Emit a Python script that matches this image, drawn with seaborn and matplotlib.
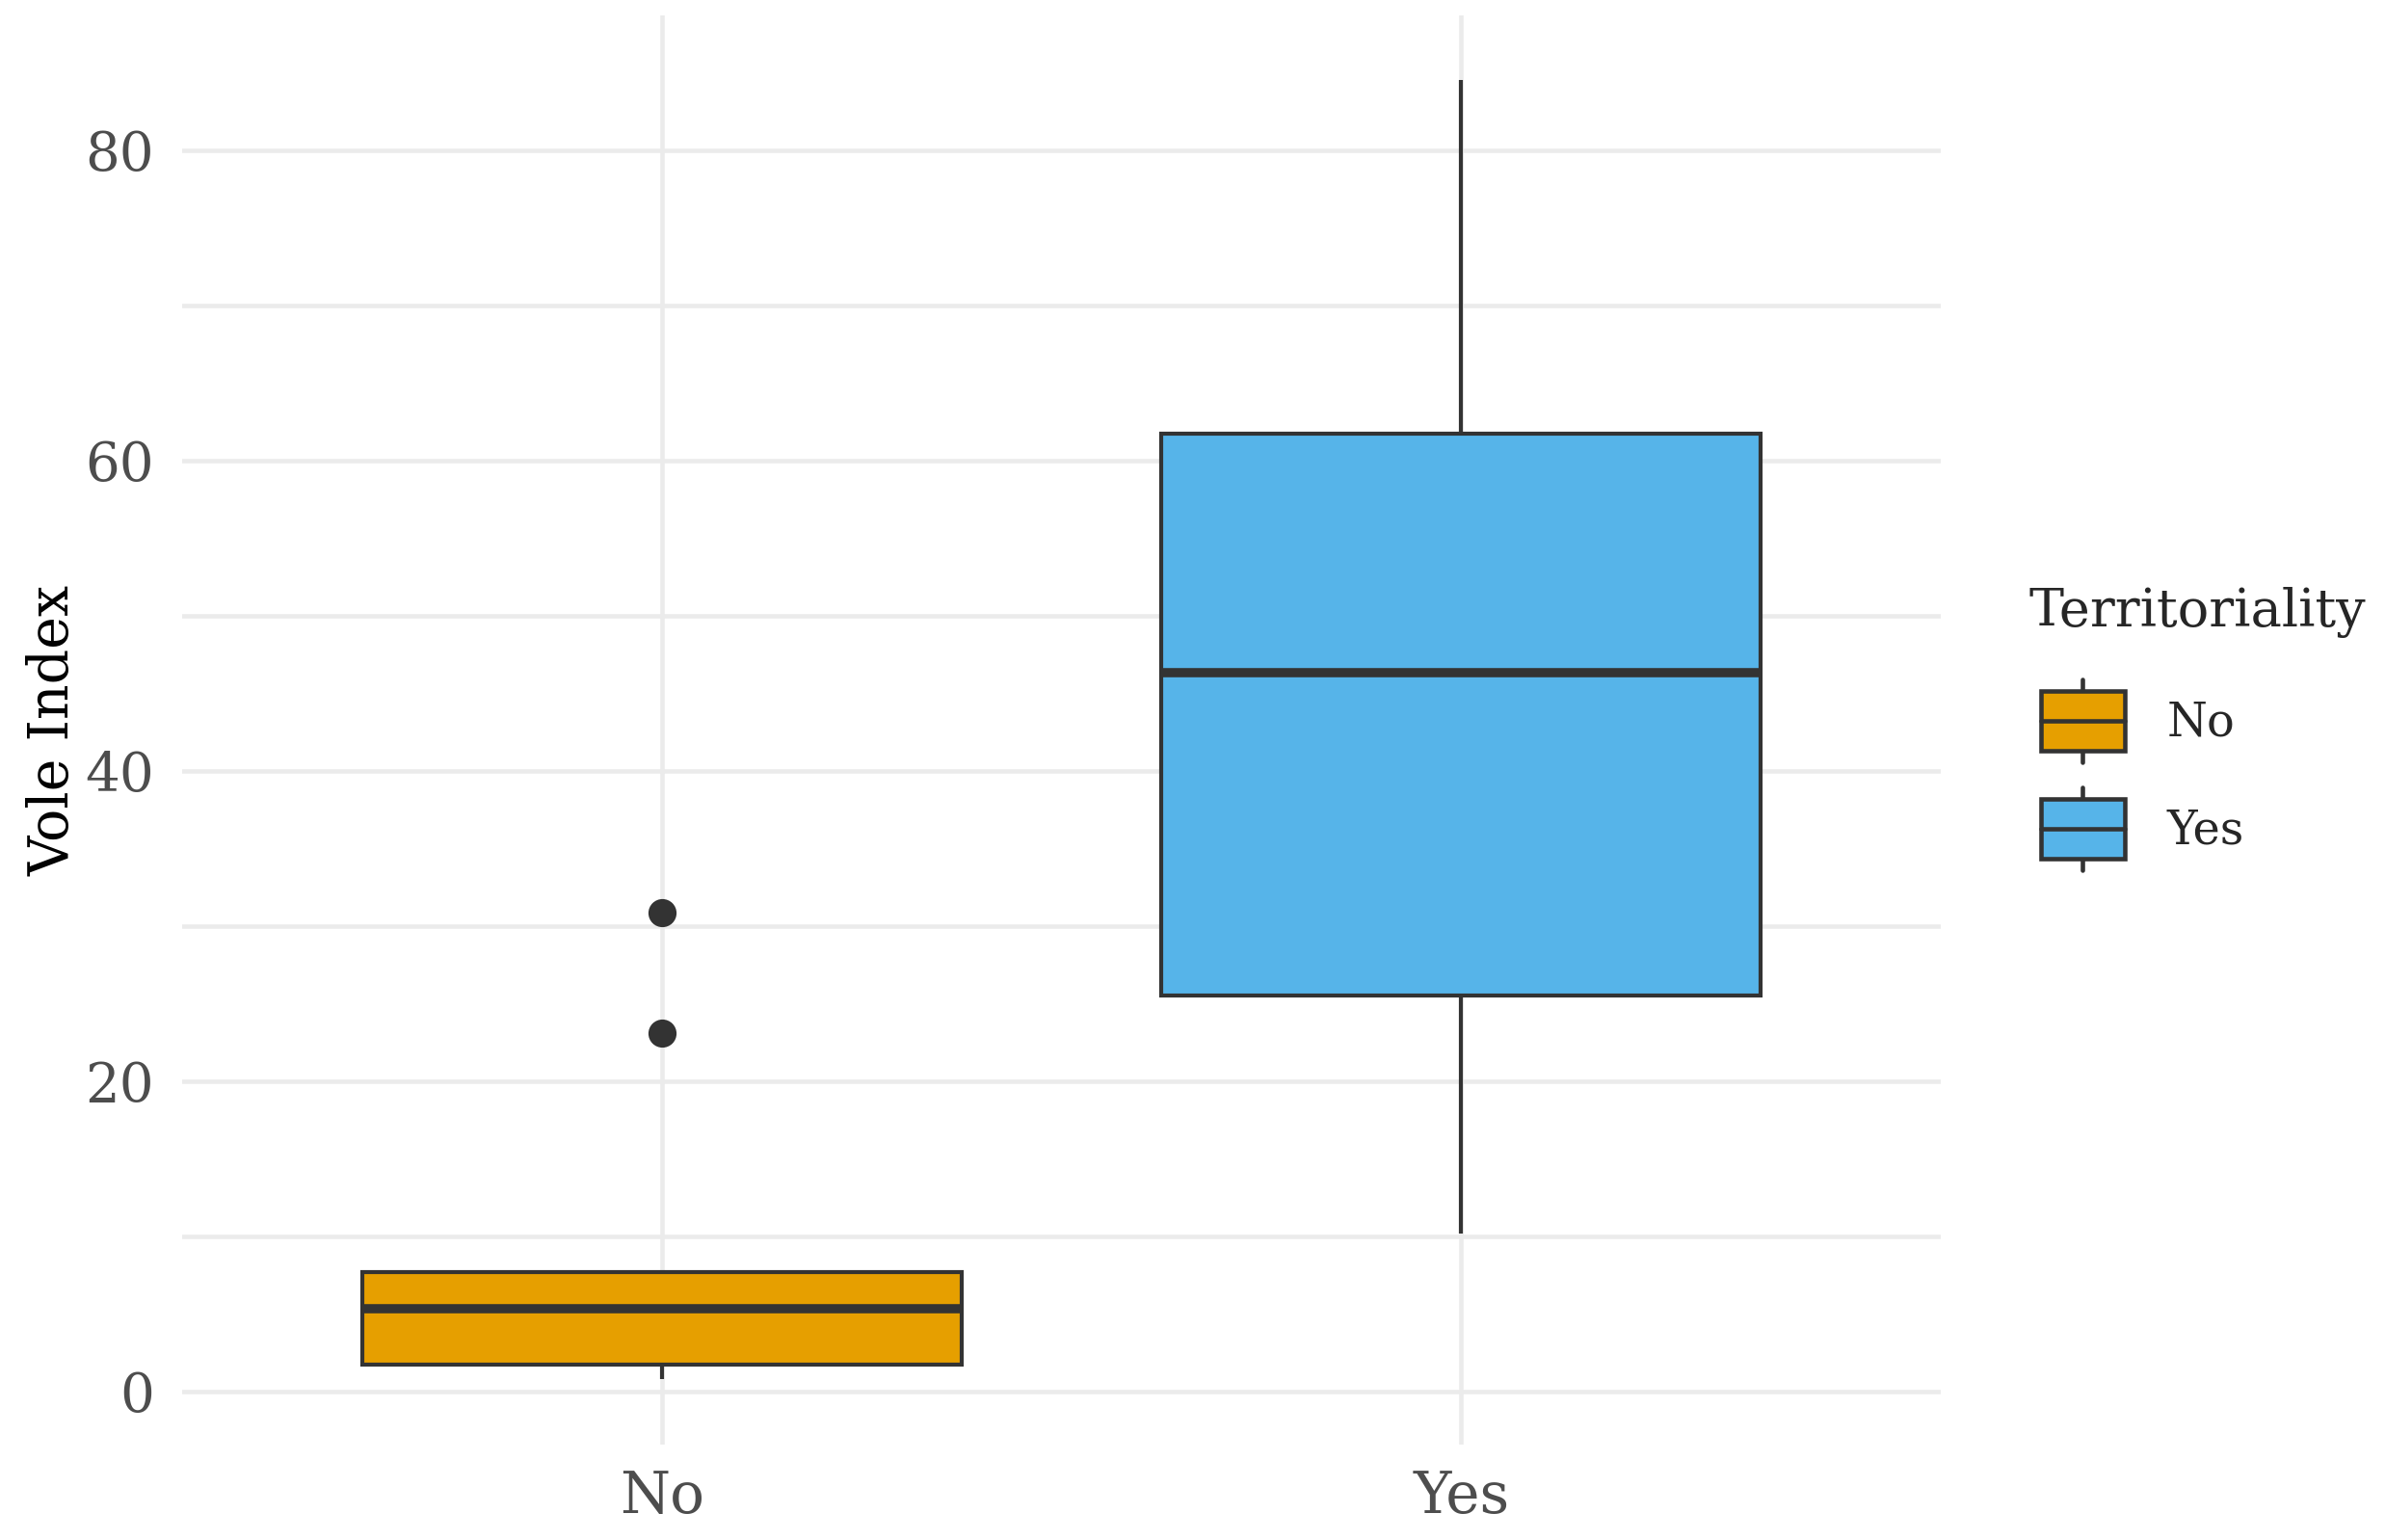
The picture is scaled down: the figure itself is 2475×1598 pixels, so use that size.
import numpy as np
import pandas as pd
import matplotlib
matplotlib.use("Agg")
import matplotlib.pyplot as plt
from matplotlib.patches import Rectangle
from matplotlib.lines import Line2D
from matplotlib.legend_handler import HandlerBase
import seaborn as sns

# Data (values chosen so the box stats match)
territory_levels = ["No", "Yes"]
vole_no = [0.76, 1.2, 1.7, 3.5, 5.3, 6.5, 7.66, 23.1, 30.85]
vole_yes = [10.2, 18.0, 25.5, 36.0, 46.3, 54.0, 61.7, 73.0, 84.5]
y_ticks = [0, 20, 40, 60, 80]
y_minor = [10, 30, 50, 70]

colours = {"No": "#E69F00", "Yes": "#56B4E9"}
LINE = "#333333"
GRID = "#EBEBEB"

df = pd.DataFrame({
    "Territoriality": ["No"] * len(vole_no) + ["Yes"] * len(vole_yes),
    "Vole Index": vole_no + vole_yes,
})


class BoxKey(HandlerBase):
    # ggplot style key: box, median line and whisker stubs
    def create_artists(self, legend, orig_handle, xdescent, ydescent,
                       width, height, fontsize, trans):
        lpad = 2.8  # small indent like the ggplot key
        x0, y0 = -xdescent + lpad, -ydescent
        w = width - lpad
        h = height
        box_h = h * 0.72
        by = y0 + (h - box_h) / 2
        xm = x0 + w / 2
        rect = Rectangle((x0, by), w, box_h, facecolor=orig_handle.get_facecolor(),
                         edgecolor=LINE, linewidth=1.1, transform=trans)
        med = Line2D([x0, x0 + w], [y0 + h / 2] * 2, color=LINE, lw=1.1, transform=trans)
        w1 = Line2D([xm, xm], [y0, by], color=LINE, lw=1.1, transform=trans)
        w2 = Line2D([xm, xm], [by + box_h, y0 + h], color=LINE, lw=1.1, transform=trans)
        return [w1, w2, rect, med]


sns.set_style("white")
plt.rcParams["font.family"] = ["DejaVu Serif"]

fig = plt.figure(figsize=(8.25, 5.3267), dpi=300)
ax = fig.add_axes([0.0764, 0.062, 0.7373, 0.928])

sns.boxplot(data=df, x="Territoriality", y="Vole Index", hue="Territoriality",
            order=territory_levels, hue_order=territory_levels, palette=colours,
            saturation=1, width=0.75, linecolor=LINE, linewidth=1.0, fliersize=6,
            legend=False, showcaps=False, whis=1.5,
            flierprops=dict(marker="o", markerfacecolor=LINE, markeredgecolor=LINE),
            medianprops=dict(linewidth=2.3, color=LINE),
            ax=ax, zorder=3)

ax.set_xlim(-0.6, 1.6)
ax.set_ylim(-3.43, 88.69)
ax.set_yticks(y_ticks)
ax.set_yticks(y_minor, minor=True)
ax.grid(True, which="both", axis="y", color=GRID, lw=1.1, zorder=0)
ax.grid(True, which="major", axis="x", color=GRID, lw=1.1, zorder=0)
ax.set_axisbelow(True)
for s in ax.spines.values():
    s.set_visible(False)
ax.tick_params(axis="both", which="both", length=0, labelcolor="#4D4D4D")
ax.tick_params(axis="y", pad=7, labelsize=13.5)
ax.tick_params(axis="x", pad=6, labelsize=14.3)
ax.set_xlabel("")
ax.set_ylabel("Vole Index", fontsize=13.7, color="black")
ax.yaxis.set_label_coords(-0.058, 0.5)

leg_fs = 11.5
handles = [Rectangle((0, 0), 1, 1, facecolor=colours[k]) for k in territory_levels]
leg = fig.legend(handles, territory_levels, title="Territoriality", loc="upper left",
                 bbox_to_anchor=(2106 / 2475, 1 - 609 / 1598), frameon=False,
                 handler_map={Rectangle: BoxKey()}, fontsize=leg_fs, title_fontsize=13.0,
                 handlelength=(21 + 2.8) / leg_fs, handleheight=(20.6 / leg_fs - 0.245) / 0.65,
                 labelspacing=6.3 / leg_fs, handletextpad=0.9,
                 borderpad=0, borderaxespad=0, alignment="left")
leg._legend_box.sep = 10.4  # more room under the title, as in the ggplot legend

fig.savefig("out.png", dpi=300, facecolor="white")
